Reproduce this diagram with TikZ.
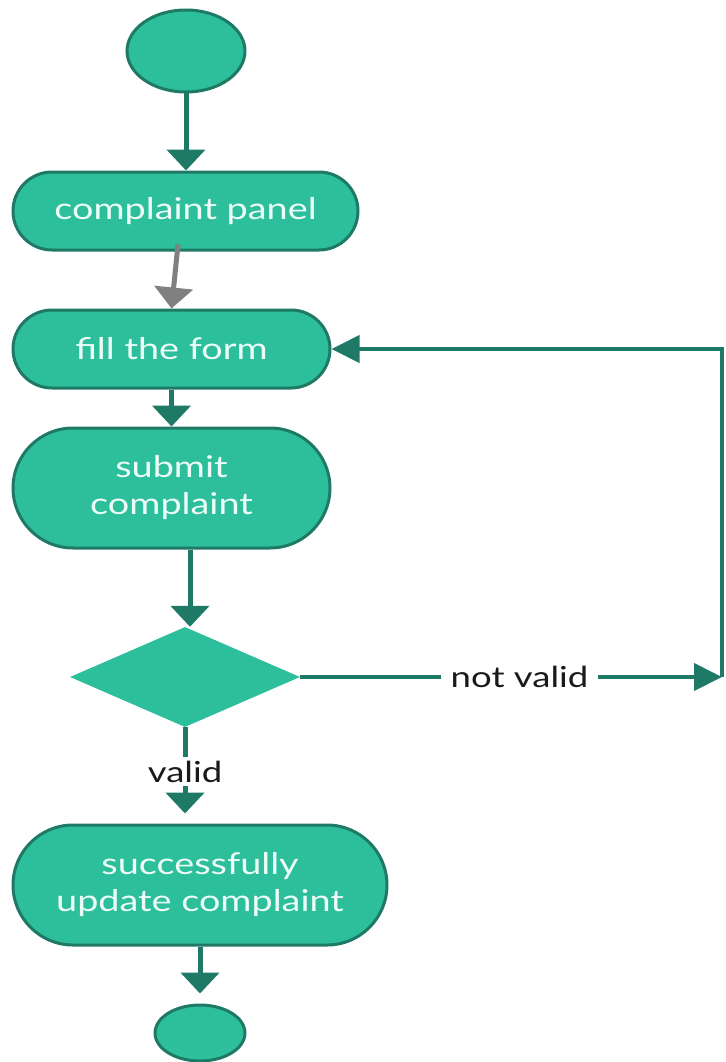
\documentclass[tikz,border=0pt]{standalone}
\usepackage{fontspec}
\setmainfont{Lato}
\newfontfamily\actfont{Lato}[FakeStretch=1.26]
\usetikzlibrary{arrows.meta,shapes.geometric,calc}
\definecolor{mint}{RGB}{45,190,155}
\definecolor{pine}{RGB}{30,122,102}
\definecolor{ink}{RGB}{26,26,26}
\definecolor{paper}{RGB}{236,252,246}
\definecolor{slate}{RGB}{128,128,128}
\begin{document}
\begin{tikzpicture}[x=1pt,y=-1pt,
  act/.style={draw=pine, line width=3pt, fill=mint, text=paper, align=center,
    inner sep=0pt, font=\actfont\fontsize{30}{37}\selectfont},
  term/.style={ellipse, draw=pine, line width=3pt, fill=mint, inner sep=0pt},
  choice/.style={diamond, fill=mint, inner sep=0pt},
  vflow/.style={draw=pine, line width=5pt, -{Triangle[width=38pt,length=21pt]}},
  hflow/.style={draw=pine, line width=4pt, -{Triangle[width=27pt,length=28pt]}},
  greyflow/.style={draw=slate, line width=5pt, -{Triangle[width=38pt,length=21pt]}},
  lbl/.style={fill=white, text=ink, inner xsep=10pt, inner ysep=4pt,
    font=\actfont\fontsize{29}{34}\selectfont}
]
\useasboundingbox (0,0) rectangle (725,1062);

% nodes
\node[term, minimum width=118pt, minimum height=82pt] (start) at (186,51) {};
\node[act, minimum width=345pt, minimum height=78pt, rounded corners=39pt] (panel) at (185.5,211) {complaint panel};
\node[act, minimum width=317pt, minimum height=78pt, rounded corners=39pt] (fill) at (171.5,349) {fill the form};
\node[act, minimum width=317pt, minimum height=120pt, rounded corners=60pt] (submit) at (171.5,488) {submit\\complaint};
\node[choice, minimum width=230pt, minimum height=100pt] (check) at (185,677) {};
\node[act, minimum width=374pt, minimum height=120pt, rounded corners=60pt] (update) at (200,885) {successfully\\update complaint};
\node[term, minimum width=90pt, minimum height=56pt] (finish) at (200,1033) {};
\coordinate (turn) at (722,677);

% connectors
\draw[vflow] (start.south) -- (start.south |- panel.north);
\draw[greyflow] ([shift={(-7.5,-7)}]panel.south) -- (fill.north);
\draw[vflow] (fill.south) -- (submit.north);
\draw[vflow] ([xshift=18.5pt]submit.south) -- ([xshift=18.5pt]submit.south |- check.north);
\draw[hflow] (check.east) -- node[lbl, pos=0.52] {not valid} (turn);
\draw[hflow] (turn) |- (fill.east);
\draw[vflow, shorten >=10pt] (check.south) -- node[lbl, pos=0.46] {valid} (check.south |- update.north);
\draw[vflow, shorten >=10pt] (update.south) -- (finish.north);
\end{tikzpicture}
\end{document}
